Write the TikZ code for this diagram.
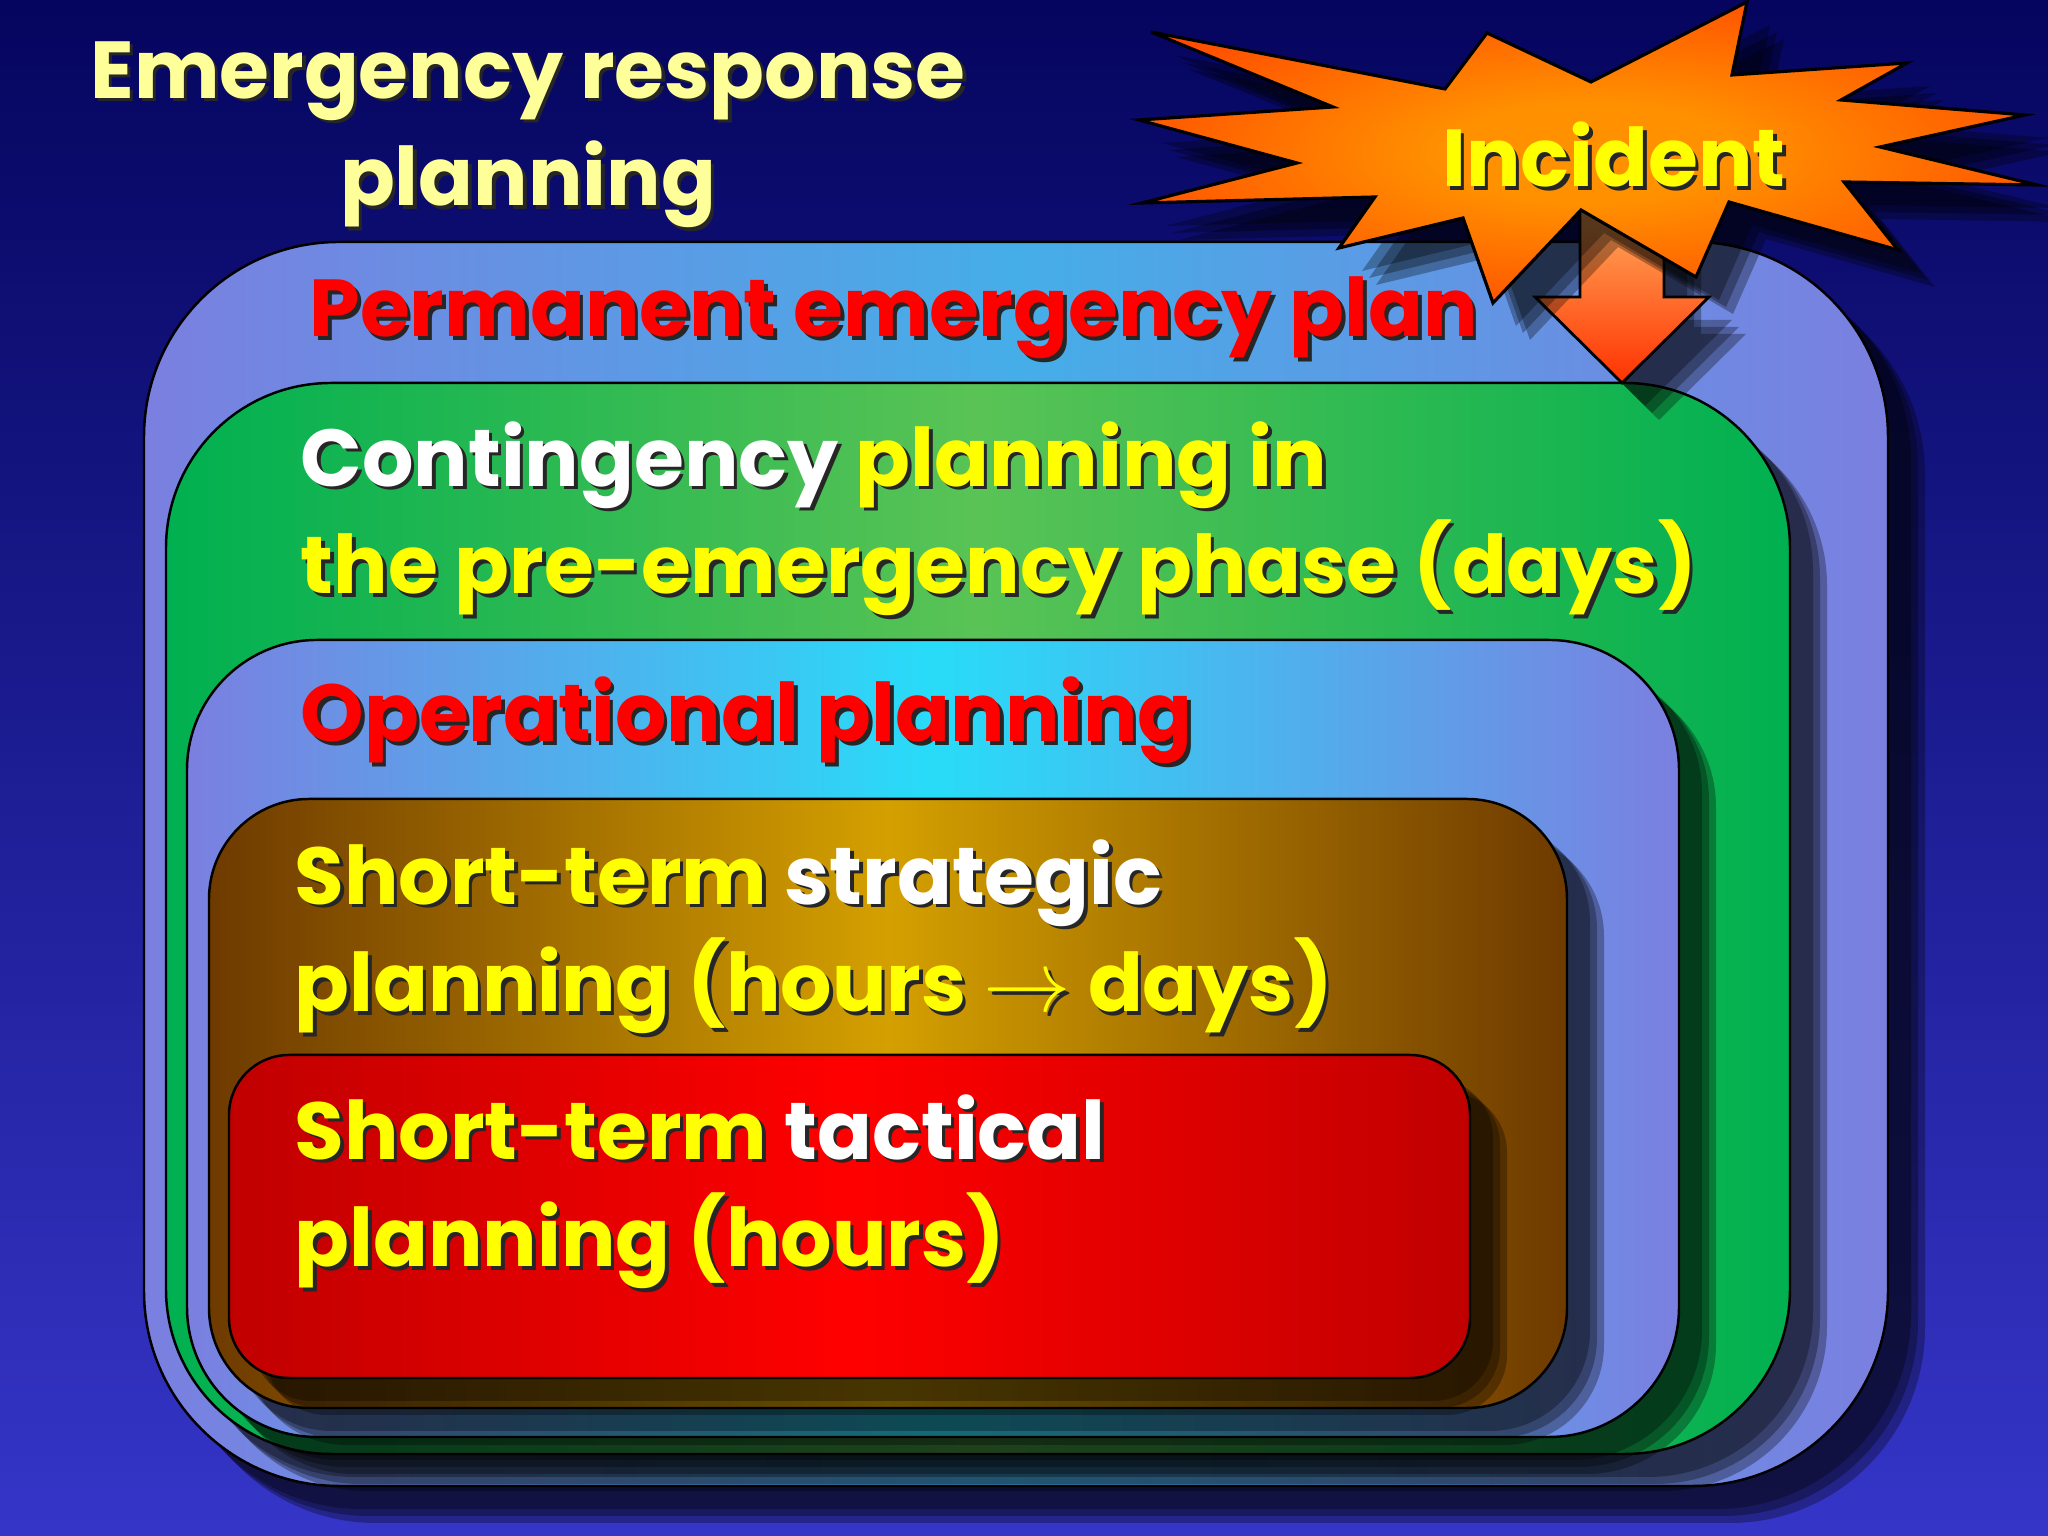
\documentclass[tikz,border=0pt]{standalone}
\usepackage{fontspec}
\setmainfont{Poppins}
\usetikzlibrary{shadows, positioning}
\definecolor{bgtop}{RGB}{5,5,95}
\definecolor{bgbottom}{RGB}{53,53,200}
\definecolor{permedge}{RGB}{123,127,224}
\definecolor{permmid}{RGB}{69,174,232}
\definecolor{contedge}{RGB}{0,176,80}
\definecolor{contmid}{RGB}{90,195,85}
\definecolor{operedge}{RGB}{123,127,224}
\definecolor{opermid}{RGB}{40,220,248}
\definecolor{stratedge}{RGB}{110,58,0}
\definecolor{stratmid}{RGB}{212,160,0}
\definecolor{tactedge}{RGB}{192,0,0}
\definecolor{tactmid}{RGB}{255,0,0}
\definecolor{burstmid}{RGB}{255,145,0}
\definecolor{burstedge}{RGB}{255,45,0}
\definecolor{arrowtop}{RGB}{255,176,96}
\definecolor{arrowbottom}{RGB}{255,50,0}
\definecolor{titleyellow}{RGB}{255,255,153}
\definecolor{planyellow}{RGB}{255,255,0}
\definecolor{planred}{RGB}{255,0,0}

\pgfdeclareradialshading{burstglow}{\pgfpointorigin}{color(0bp)=(burstmid); color(8bp)=(burstmid); color(38bp)=(burstedge); color(50bp)=(burstedge)}

\newcommand\hl[2]{\textcolor{#1}{#2}}
\newcommand\shad[1]{\makebox[0pt][l]{\kern1pt\raisebox{-1pt}{\color{black!85}\renewcommand\hl[2]{##2}#1}}#1}
\newcommand\planfont{\fontsize{23}{30.7}\selectfont\bfseries}

\begin{document}
\begin{tikzpicture}[
    softshadow/.style={
        general shadow={shadow xshift=0.23cm, shadow yshift=-0.23cm, opacity=0.3, fill=black},
        general shadow={shadow xshift=0.3cm, shadow yshift=-0.3cm, opacity=0.3, fill=black},
        general shadow={shadow xshift=0.37cm, shadow yshift=-0.37cm, opacity=0.3, fill=black}},
    planbox/.style={draw=black, line width=0.7pt, inner sep=0pt, outer sep=0pt, softshadow},
    burst/.style={draw=black, line width=0.9pt, shading=burstglow, softshadow},
    incarrow/.style={draw=black, line width=0.8pt, top color=arrowtop, bottom color=arrowbottom, softshadow},
    plantext/.style={anchor=base west, align=left, inner sep=0pt, font=\planfont}
]
    % Background
    \useasboundingbox (0,0) rectangle (20.48,15.36);
    \fill[top color=bgtop, bottom color=bgbottom] (0,0) rectangle (20.48,15.36);

    % Nested planning levels
    \node[planbox, left color=permedge, right color=permedge, middle color=permmid,
        minimum width=17.44cm, minimum height=12.44cm, rounded corners=1.95cm] (perm) at (10.16,6.72) {};
    \node[planbox, left color=contedge, right color=contedge, middle color=contmid,
        minimum width=16.24cm, minimum height=10.71cm, rounded corners=1.65cm] (cont) at (9.78,6.175) {};
    \node[planbox, left color=operedge, right color=operedge, middle color=opermid,
        minimum width=14.92cm, minimum height=7.97cm, rounded corners=1.3cm] (oper) at (9.33,4.975) {};
    \node[planbox, left color=stratedge, right color=stratedge, middle color=stratmid,
        minimum width=13.58cm, minimum height=6.09cm, rounded corners=1cm] (strat) at (8.88,4.325) {};
    \node[planbox, left color=tactedge, right color=tactedge, middle color=tactmid,
        minimum width=12.41cm, minimum height=3.23cm, rounded corners=0.6cm] (tact) at (8.495,3.195) {};

    % Incident arrow
    \coordinate[xshift=6.44cm] (tip) at (cont.north);
    \draw[incarrow] (tip) -- ++(-0.87,0.86) -- ++(0.45,0) -- ++(0,0.92) -- ++(0.84,0)
        -- ++(0,-0.92) -- ++(0.45,0) -- cycle;

    % Incident starburst
    \draw[burst] (11.51,15.04) -- (14.45,14.47) -- (14.87,15.03) -- (15.91,14.54) -- (17.47,15.34)
        -- (17.32,14.61) -- (19.07,14.73) -- (18.41,14.36) -- (20.25,14.21) -- (18.80,13.89)
        -- (20.37,13.51) -- (18.44,13.54) -- (18.98,12.86) -- (17.29,13.34) -- (16.96,12.59)
        -- (15.81,13.26) -- (14.93,12.33) -- (14.63,13.18) -- (13.39,12.88) -- (13.75,13.39)
        -- (11.42,13.33) -- (12.97,13.73) -- (11.39,14.16) -- (13.33,14.29) -- cycle;
    \node[anchor=base, inner sep=0pt, text=planyellow, font=\planfont] (incident) at (16.14,13.49) {\shad{Incident}};

    % Labels (base = baseline of the last line)
    \node[anchor=base, align=center, inner sep=0pt, text=titleyellow, font=\planfont] (title) at (5.28,13.30)
        {\shad{Emergency response}\\\shad{planning}};
    \node[plantext, text=planred] (permtxt) at (3.09,11.99) {\shad{Permanent emergency plan}};
    \node[plantext, text=planyellow] (conttxt) at (3.00,9.42)
        {\shad{\hl{white}{Contingency} planning in}\\\shad{the pre-emergency phase (days)}};
    \node[plantext, text=planred] (opertxt) at (3.00,7.94) {\shad{Operational planning}};
    \node[plantext, text=planyellow] (strattxt) at (2.94,5.24)
        {\shad{Short-term \hl{white}{strategic}}\\\shad{planning (hours $\rightarrow$ days)}};
    \node[plantext, text=planyellow] (tacttxt) at (2.94,2.69)
        {\shad{Short-term \hl{white}{tactical}}\\\shad{planning (hours)}};
\end{tikzpicture}
\end{document}
